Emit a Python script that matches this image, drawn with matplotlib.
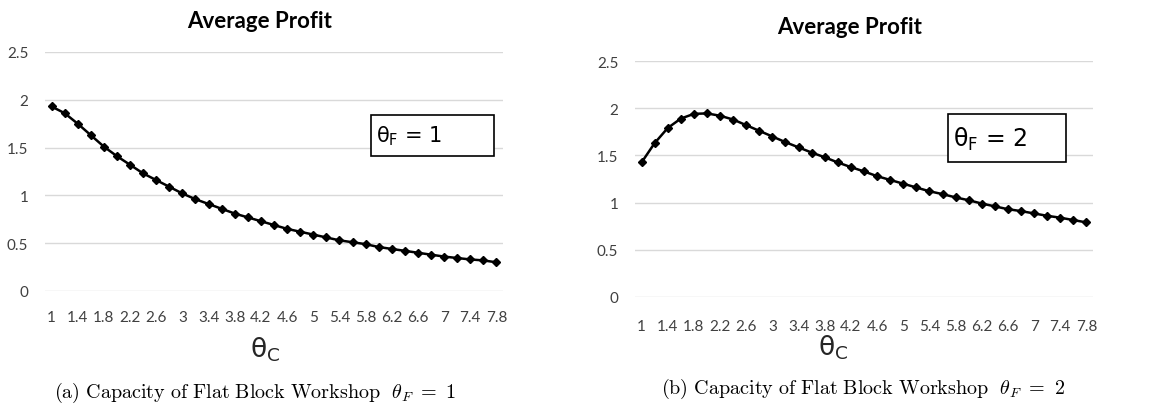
import matplotlib
matplotlib.use("Agg")
import matplotlib.pyplot as plt
import numpy as np

plt.rcParams['mathtext.fontset'] = 'custom'
plt.rcParams['mathtext.rm'] = 'Open Sans'
plt.rcParams['mathtext.it'] = 'Open Sans'
plt.rcParams['mathtext.bf'] = 'Open Sans:bold'

theta_c = [1.0, 1.2, 1.4, 1.6, 1.8, 2.0, 2.2, 2.4, 2.6, 2.8, 3.0, 3.2, 3.4, 3.6, 3.8,
           4.0, 4.2, 4.4, 4.6, 4.8, 5.0, 5.2, 5.4, 5.6, 5.8, 6.0, 6.2, 6.4, 6.6, 6.8,
           7.0, 7.2, 7.4, 7.6, 7.8]

profit_f1 = [1.93, 1.86, 1.75, 1.63, 1.51, 1.41, 1.32, 1.23, 1.16, 1.09, 1.02, 0.96,
             0.91, 0.86, 0.81, 0.77, 0.73, 0.69, 0.65, 0.62, 0.59, 0.56, 0.53, 0.51,
             0.49, 0.46, 0.44, 0.42, 0.40, 0.38, 0.36, 0.345, 0.33, 0.32, 0.30]

profit_f2 = [1.425, 1.63, 1.79, 1.89, 1.94, 1.945, 1.92, 1.88, 1.82, 1.76, 1.70, 1.64,
             1.585, 1.53, 1.48, 1.425, 1.376, 1.33, 1.28, 1.24, 1.20, 1.16, 1.12, 1.09,
             1.055, 1.025, 0.99, 0.96, 0.93, 0.91, 0.885, 0.86, 0.84, 0.815, 0.79]

x_ticks = [1.0, 1.4, 1.8, 2.2, 2.6, 3.0, 3.4, 3.8, 4.2, 4.6, 5.0, 5.4, 5.8, 6.2, 6.6,
           7.0, 7.4, 7.8]
x_tick_labels = ['1', '1.4', '1.8', '2.2', '2.6', '3', '3.4', '3.8', '4.2', '4.6', '5',
                 '5.4', '5.8', '6.2', '6.6', '7', '7.4', '7.8']
y_ticks = [0, 0.5, 1.0, 1.5, 2.0, 2.5]
y_tick_labels = ['0', '0.5', '1', '1.5', '2', '2.5']

titles = ['Average Profit', 'Average Profit']
box_labels = [r'$\mathregular{\theta_F}$ = 1', r'$\mathregular{\theta_F}$ = 2']
captions = [r'$\mathrm{(a)\ Capacity\ of\ Flat\ Block\ Workshop}\ \ \theta_F\ =\ 1$',
            r'$\mathrm{(b)\ Capacity\ of\ Flat\ Block\ Workshop}\ \ \theta_F\ =\ 2$']

W, H = 1165, 406
fig = plt.figure(figsize=(W / 100, H / 100), dpi=100)

FONT = ['Lato', 'Open Sans', 'DejaVu Sans']

# pixel layouts: (left, top, right, bottom) of plot area
areas = [(45, 53, 503, 292), (635, 62, 1093, 298)]
title_pos = [(260, 22), (850, 28)]
xlabel_pos = [(265, 350), (833, 348)]
caption_pos = [(255, 393), (863, 389)]
box_pos = [(371, 116, 494, 157), (948, 115, 1066, 163)]
series = [profit_f1, profit_f2]

for i in range(2):
    l, t, r, b = areas[i]
    ax = fig.add_axes([l / W, 1 - b / H, (r - l) / W, (b - t) / H])
    ax.plot(theta_c, series[i], color='black', lw=1.8, marker='D', ms=4.2,
            markerfacecolor='black', markeredgecolor='black', zorder=3)
    ax.set_xlim(0.9, 7.9)
    ax.set_ylim(0, 2.5)
    ax.set_yticks(y_ticks)
    ax.set_yticklabels(y_tick_labels, fontfamily=FONT, fontsize=11, color='#404040')
    ax.set_xticks(x_ticks)
    ax.set_xticklabels(x_tick_labels, fontfamily=FONT, fontsize=11, color='#404040')
    ax.tick_params(axis='x', length=0, pad=14 if i == 0 else 16)
    ax.tick_params(axis='y', length=0, pad=12)
    ax.grid(axis='y', color='#d9d9d9', lw=1)
    ax.set_axisbelow(True)
    for s in ax.spines.values():
        s.set_visible(False)

    fig.text(title_pos[i][0] / W, 1 - title_pos[i][1] / H, titles[i],
             ha='center', va='center', fontsize=16, fontweight='bold',
             fontfamily=FONT)
    fig.text(xlabel_pos[i][0] / W, 1 - xlabel_pos[i][1] / H,
             r'$\mathregular{\theta_C}$', ha='center', va='center', fontsize=19,
             color='#262626')
    fig.text(caption_pos[i][0] / W, 1 - caption_pos[i][1] / H, captions[i],
             ha='center', va='center', fontsize=14.5, math_fontfamily='cm')

    bl, bt, br, bb = box_pos[i]
    rect = plt.Rectangle((bl / W, 1 - bb / H), (br - bl) / W, (bb - bt) / H,
                         transform=fig.transFigure, facecolor='white',
                         edgecolor='black', lw=1.2, zorder=5)
    fig.add_artist(rect)
    fig.text((bl + 5) / W, 1 - (bt + bb) / 2 / H, box_labels[i], ha='left',
             va='center', fontsize=15 if i == 0 else 17, zorder=6)

fig.savefig('out.png', dpi=100)
